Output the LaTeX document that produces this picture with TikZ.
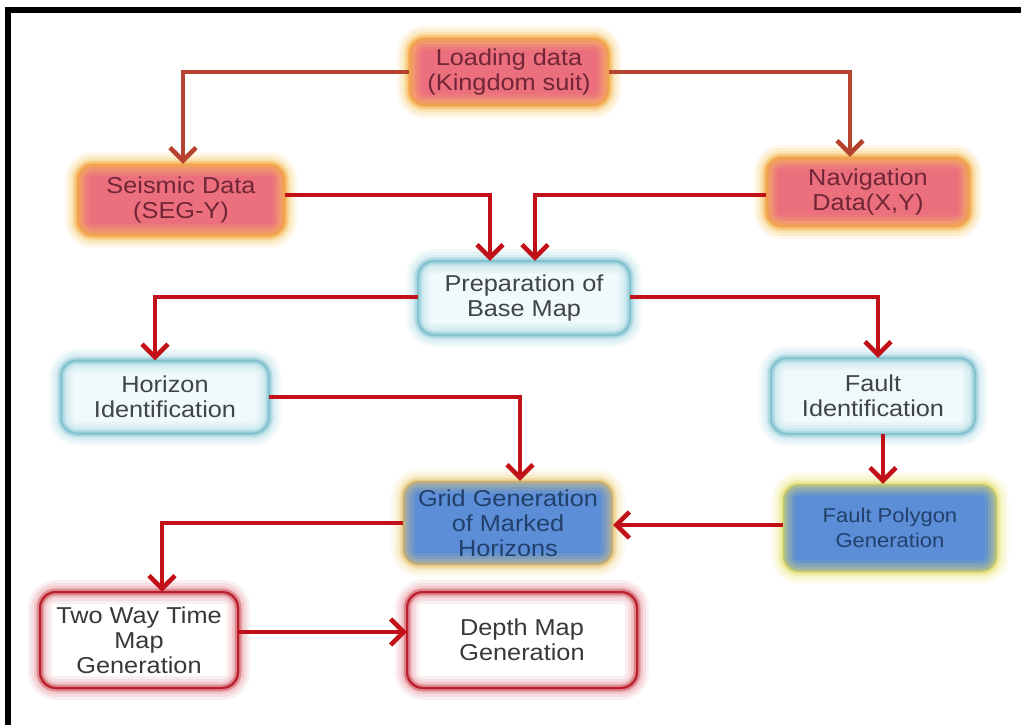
\documentclass[tikz,border=0pt]{standalone}
\usepackage{fontspec}
\setmainfont[FakeStretch=1.1]{Liberation Sans}
\usetikzlibrary{arrows.meta}
\definecolor{warmfill}{HTML}{EC6F7E}
\definecolor{warmglow}{HTML}{F4A640}
\definecolor{warmhalo}{HTML}{F8C860}
\definecolor{warmtext}{HTML}{702636}
\definecolor{cyanfill}{HTML}{F0F9FB}
\definecolor{cyanglow}{HTML}{9AD5E0}
\definecolor{cyanedge}{HTML}{62B2C2}
\definecolor{cyantext}{HTML}{404448}
\definecolor{bluefill}{HTML}{5B8ED6}
\definecolor{blueglow}{HTML}{EEE46A}
\definecolor{blueedge}{HTML}{DCD860}
\definecolor{gridglow}{HTML}{EFD27A}
\definecolor{gridedge}{HTML}{E2B860}
\definecolor{bluetext}{HTML}{22406C}
\definecolor{rededge}{HTML}{BC202C}
\definecolor{redglow}{HTML}{E4848F}
\definecolor{redtext}{HTML}{383838}
\definecolor{arrbrown}{HTML}{B5432F}
\definecolor{arrred}{HTML}{C21018}
\tikzset{
  box/.style={rounded corners=16pt, align=center, inner sep=0pt,
    font=\fontsize{23}{25}\selectfont},
  glow/.style n args={3}{
    postaction={draw=#1, line width=24pt, opacity=0.10*#3},
    postaction={draw=#1, line width=18pt, opacity=0.14*#3},
    postaction={draw=#1, line width=12pt, opacity=0.20*#3},
    postaction={draw=#2, line width=7pt, opacity=0.30*#3},
    postaction={draw=#2, line width=2.5pt, opacity=0.55}},
  warm/.style={box, fill=warmfill, text=warmtext, glow={warmhalo}{warmglow}{1.3}},
  cool/.style={box, fill=cyanfill, text=cyantext, glow={cyanglow}{cyanedge}{1}},
  blue/.style 2 args={box, fill=bluefill, text=bluetext, glow={#1}{#2}{1}},
  redbox/.style={box, fill=white, text=redtext, glow={redglow}{rededge}{1.2},
    postaction={draw=rededge, line width=2pt}},
  arr/.style={draw=#1, line width=4.5pt,
    -{Straight Barb[length=13pt, width=26pt]}},
  frame/.style={line width=6pt, draw=black}
}
\begin{document}
\begin{tikzpicture}[x=1pt, y=-1pt]
\useasboundingbox[fill=white] (0,0) rectangle (1021,725);
\draw[frame] (5,10.5) -- (1021,10.5);
\draw[frame] (8,7.5) -- (8,725);

\node[warm, minimum width=200pt, minimum height=68pt] (load) at (509,72) {Loading data\\(Kingdom suit)};
\node[warm, minimum width=208pt, minimum height=72pt] (seis) at (181,200) {Seismic Data\\(SEG-Y)};
\node[warm, minimum width=204pt, minimum height=70pt] (nav) at (868,192) {Navigation\\Data(X,Y)};
\node[cool, minimum width=212pt, minimum height=74pt] (prep) at (524,298) {Preparation of\\Base Map};
\node[cool, minimum width=208pt, minimum height=73pt] (hor) at (165,397) {Horizon\\Identification};
\node[cool, minimum width=204pt, minimum height=76pt] (fid) at (873,396) {Fault\\Identification};
\node[blue={gridglow}{gridedge}, minimum width=210pt, minimum height=84pt] (grid) at (508,523) {Grid Generation\\of Marked\\Horizons};
\node[blue={blueglow}{blueedge}, minimum width=214pt, minimum height=88pt, font=\fontsize{20}{25}\selectfont] (fpoly) at (890,528) {Fault Polygon\\Generation};
\node[redbox, minimum width=198pt, minimum height=96pt] (twt) at (139,640) {Two Way Time\\Map\\Generation};
\node[redbox, minimum width=230pt, minimum height=96pt] (depth) at (522,640) {Depth Map\\Generation};

\draw[arr=arrbrown] (load.west) -| ([xshift=2pt]seis.north);
\draw[arr=arrbrown] (load.east) -| ([xshift=-18pt]nav.north);
\draw[arr=arrred] ([yshift=5pt]seis.east) -| ([xshift=-34pt]prep.north);
\draw[arr=arrred] ([yshift=-3pt]nav.west) -| ([xshift=11pt]prep.north);
\draw[arr=arrred] ([yshift=1pt]prep.west) -| ([xshift=-10pt]hor.north);
\draw[arr=arrred] ([yshift=1pt]prep.east) -| ([xshift=5pt]fid.north);
\draw[arr=arrred] (hor.east) -| ([xshift=12pt]grid.north);
\draw[arr=arrred] ([xshift=10pt]fid.south) -- ([xshift=10pt]fid.south |- fpoly.north);
\draw[arr=arrred] ([yshift=3pt]fpoly.west) -- ([yshift=3pt]fpoly.west -| grid.east);
\draw[arr=arrred] (grid.west) -| ([xshift=23pt]twt.north);
\draw[arr=arrred] ([yshift=8pt]twt.east) -- ([yshift=8pt]twt.east -| depth.west);
\end{tikzpicture}
\end{document}
